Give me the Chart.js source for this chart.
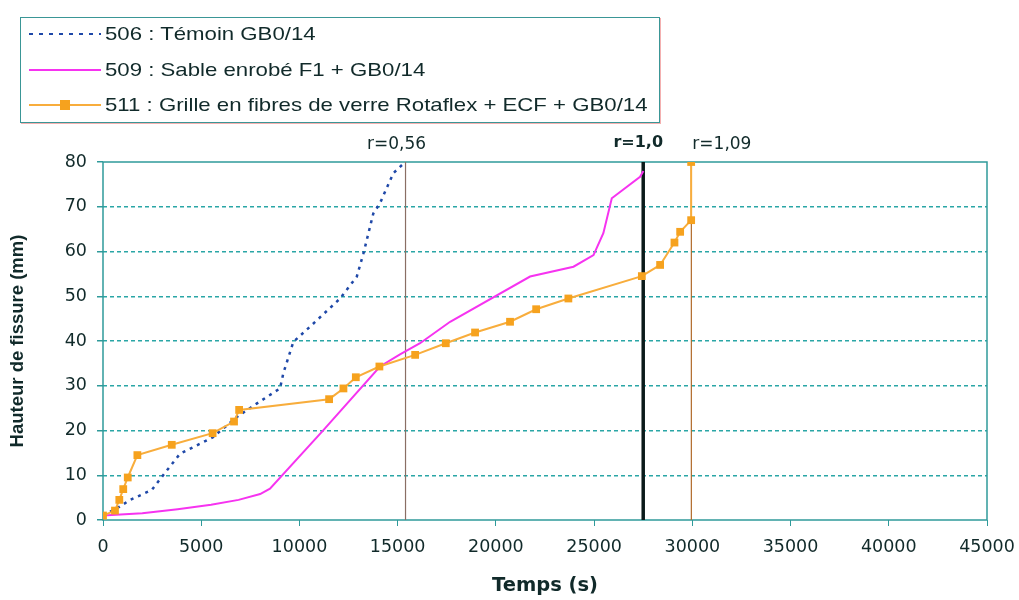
<!DOCTYPE html>
<html>
<head>
<meta charset="utf-8">
<script src="https://cdn.jsdelivr.net/npm/chart.js@4.4.1/dist/chart.umd.min.js"></script>
<style>
  body { margin: 0; background: #fff; font-family: "Liberation Sans", Arial, sans-serif; }
  #wrap { position: relative; width: 1019px; height: 600px; }
  #legend {
    position: absolute; left: 20px; top: 17px; width: 638px; height: 104px;
    border: 1px solid #3a9696; box-shadow: 1px 1px 0 #f4b0b0;
    color: #112a2a; font-size: 18.5px;
  }
  .row { position: absolute; left: 0; height: 24px; display: flex; align-items: center; white-space: nowrap; }
  .row svg { margin-left: 8px; margin-right: 4px; }
  .row span { display: inline-block; transform: scaleX(1.2); transform-origin: left center; }
</style>
</head>
<body>
<div id="wrap">
  <canvas id="chart" width="1019" height="600"></canvas>
  <div id="legend"></div>
</div>
<script>
// Reference values (time in s, crack height in mm)
const time506 = [0, 850, 1380, 2480, 3060, 3920, 5600, 6810, 7820, 9010, 9180, 9690, 10540, 12070, 12920, 13260, 13760, 14100, 14780, 15380];
const crack506 = [1, 3, 4.5, 6.7, 10, 14.8, 18.5, 23, 26, 29.4, 32.8, 39.8, 43.2, 49.5, 54.4, 59.6, 68.5, 70.8, 77.5, 80];

const time509 = [0, 2000, 3800, 5500, 6900, 8000, 8500, 11220, 14100, 15120, 16140, 17670, 21740, 23950, 24970, 25470, 25900, 27340, 27510];
const crack509 = [1, 1.5, 2.4, 3.4, 4.5, 5.8, 7, 20.1, 34.3, 37, 39.5, 44.3, 54.4, 56.6, 59.2, 64.1, 71.9, 76.7, 78];

const time511 = [0, 610, 830, 1030, 1260, 1750, 3500, 5580, 6670, 6930, 11510, 12240, 12870, 14070, 15890, 17450, 18940, 20720, 22050, 23690, 27430, 28360, 29090, 29380, 29940, 29940];
const crack511 = [1, 2.1, 4.5, 6.9, 9.5, 14.5, 16.8, 19.4, 22, 24.6, 27, 29.4, 31.9, 34.3, 36.9, 39.5, 41.9, 44.3, 47.1, 49.5, 54.5, 57, 62, 64.4, 67, 80];

const seriesNames = [
  '506 : Témoin GB0/14',
  '509 : Sable enrobé F1 + GB0/14',
  '511 : Grille en fibres de verre Rotaflex + ECF + GB0/14'
];

// r markers (vertical reference lines)
const refTimes = [15400, 27500, 29950];
const refLabels = ['r=0,56', 'r=1,0', 'r=1,09'];

const xTicks = [0, 5000, 10000, 15000, 20000, 25000, 30000, 35000, 40000, 45000];
const yTicks = [0, 10, 20, 30, 40, 50, 60, 70, 80];

const textColor = '#112a2a';
const teal = '#2f9a9a';
const tickFont = '"DejaVu Sans", Verdana, sans-serif';

function toPoints(xs, ys) {
  return xs.map((x, i) => ({ x: x, y: ys[i] }));
}

// Draw the reference lines and their labels
const refLinesPlugin = {
  id: 'refLines',
  beforeDatasetsDraw(chart) {
    const { ctx, chartArea, scales } = chart;
    const styles = [
      { color: '#8a6e64', width: 1.2 },
      { color: '#0b1a1a', width: 3.5 },
      { color: '#b06a2a', width: 1.2 }
    ];
    ctx.save();
    refTimes.forEach((t, i) => {
      const x = scales.x.getPixelForValue(t);
      ctx.strokeStyle = styles[i].color;
      ctx.lineWidth = styles[i].width;
      ctx.beginPath();
      ctx.moveTo(x, chartArea.top);
      ctx.lineTo(x, chartArea.bottom);
      ctx.stroke();
    });
    ctx.restore();
  },
  afterDraw(chart) {
    const { ctx, chartArea, scales } = chart;
    ctx.save();
    ctx.fillStyle = textColor;
    ctx.textBaseline = 'middle';
    refTimes.forEach((t, i) => {
      const x = scales.x.getPixelForValue(t);
      if (i === 1) {
        ctx.font = 'bold 16px ' + tickFont;
        ctx.textAlign = 'center';
        ctx.fillText(refLabels[i], x - 5, chartArea.top - 19);
      } else if (i === 0) {
        ctx.font = '17px ' + tickFont;
        ctx.textAlign = 'center';
        ctx.fillText(refLabels[i], x - 9, chartArea.top - 17);
      } else {
        ctx.font = '17px ' + tickFont;
        ctx.textAlign = 'left';
        ctx.fillText(refLabels[i], x + 1, chartArea.top - 17);
      }
    });
    ctx.restore();
  }
};

// Plot frame
const framePlugin = {
  id: 'frame',
  beforeDatasetsDraw(chart) {
    const { ctx, chartArea } = chart;
    ctx.save();
    ctx.strokeStyle = teal;
    ctx.lineWidth = 1.5;
    ctx.strokeRect(chartArea.left, chartArea.top, chartArea.right - chartArea.left, chartArea.bottom - chartArea.top);
    ctx.restore();
  }
};

new Chart(document.getElementById('chart'), {
  type: 'scatter',
  data: {
    datasets: [
      {
        label: seriesNames[0],
        data: toPoints(time506, crack506),
        showLine: true,
        borderColor: '#1f48a8',
        borderWidth: 2.5,
        borderDash: [3, 5],
        pointRadius: 0,
        order: 3
      },
      {
        label: seriesNames[1],
        data: toPoints(time509, crack509),
        showLine: true,
        borderColor: '#f633f0',
        borderWidth: 2,
        pointRadius: 0,
        order: 2
      },
      {
        label: seriesNames[2],
        data: toPoints(time511, crack511),
        showLine: true,
        borderColor: '#f8ad3c',
        borderWidth: 2,
        pointStyle: 'rect',
        pointRadius: 5.5,
        pointBackgroundColor: '#f6a21e',
        pointBorderColor: '#f6a21e',
        pointBorderWidth: 0,
        order: 1
      }
    ]
  },
  options: {
    responsive: false,
    animation: false,
    layout: { padding: { top: 162, right: 32, left: 0, bottom: 0 } },
    plugins: {
      legend: { display: false },
      tooltip: { enabled: false }
    },
    scales: {
      x: {
        type: 'linear',
        min: 0,
        max: 45000,
        afterFit: function(scale) {
          scale.height = 80;
          scale.paddingLeft = 0;
          scale.paddingRight = 0;
        },
        afterBuildTicks: function(scale) { scale.ticks = xTicks.map(v => ({ value: v })); },
        border: { display: false },
        grid: { drawOnChartArea: false, drawTicks: true, tickLength: 6, tickColor: teal },
        ticks: {
          color: textColor,
          font: { size: 17.5, family: tickFont },
          padding: 11,
          maxRotation: 0,
          callback: v => String(v)
        },
        title: {
          display: true,
          text: 'Temps (s)',
          color: textColor,
          font: { size: 19.5, weight: 'bold', family: tickFont },
          padding: { top: 0, bottom: 2 }
        }
      },
      y: {
        type: 'linear',
        min: 0,
        max: 80,
        afterFit: function(scale) {
          scale.width = 103;
          scale.paddingTop = 0;
          scale.paddingBottom = 0;
        },
        afterBuildTicks: function(scale) { scale.ticks = yTicks.map(v => ({ value: v })); },
        border: { display: false, dash: [4, 3] },
        grid: {
          color: ctx => (ctx.tick && (ctx.tick.value === 0 || ctx.tick.value === 80)) ? 'rgba(0,0,0,0)' : '#2aa6a6',
          lineWidth: 1.5,
          tickLength: 6,
          tickColor: teal,
          tickBorderDash: []
        },
        ticks: {
          color: textColor,
          font: { size: 17.5, family: tickFont },
          padding: 10
        },
        title: {
          display: true,
          text: 'Hauteur de fissure (mm)',
          color: textColor,
          font: { size: 18.5, weight: 'bold', family: '"Liberation Sans", Arial, sans-serif' },
          padding: { top: 7, bottom: 0 }
        }
      }
    }
  },
  plugins: [framePlugin, refLinesPlugin]
});

// HTML legend with line samples
const legendSamples = [
  '<line x1="0" y1="6" x2="72" y2="6" stroke="#1f48a8" stroke-width="2" stroke-dasharray="4,6"/>',
  '<line x1="0" y1="6" x2="72" y2="6" stroke="#f633f0" stroke-width="2"/>',
  '<line x1="0" y1="6" x2="72" y2="6" stroke="#f8ad3c" stroke-width="2"/><rect x="31" y="1" width="10" height="10" fill="#f6a21e"/>'
];
const legendTops = [4, 40, 75];
const legendEl = document.getElementById('legend');
seriesNames.forEach((name, i) => {
  const row = document.createElement('div');
  row.className = 'row';
  row.style.top = legendTops[i] + 'px';
  row.innerHTML = '<svg width="72" height="12">' + legendSamples[i] + '</svg><span>' + name + '</span>';
  legendEl.appendChild(row);
});
</script>
</body>
</html>
